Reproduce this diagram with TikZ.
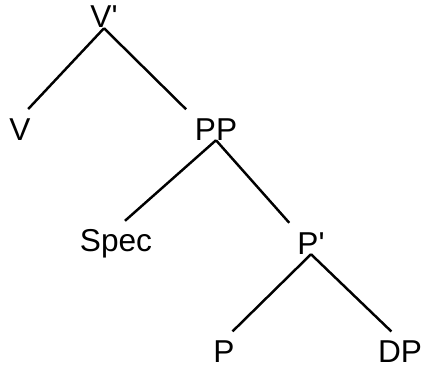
\documentclass[tikz,border=0pt]{standalone}
\usepackage{fontspec}
\setmainfont{Liberation Sans}
\begin{document}
\begin{tikzpicture}[x=0.03cm, y=-0.03cm,
  cat/.style={anchor=base, inner sep=0pt, text height=0.66cm, text depth=0pt,
    font=\fontsize{27}{31}\selectfont},
  br/.style={line width=2.1pt, shorten >=0.36cm}
]
\useasboundingbox (0,0) rectangle (423,367);
% category labels
\node[cat] (vbar) at (104, 28) {V\textquotesingle};
\node[cat] (v) at (20, 140) {V};
\node[cat] (pp) at (216, 140) {PP};
\node[cat] (spec) at (116, 251) {Spec};
\node[cat] (pbar) at (311, 254) {P\textquotesingle};
\node[cat] (p) at (224, 362) {P};
\node[cat] (dp) at (400, 362) {DP};
% branches
\draw[br] (vbar.south) -- (v.north);
\draw[br] (vbar.south) -- (pp.north west);
\draw[br] (pp.south) -- (spec.north);
\draw[br] (pp.south) -- (pbar.north west);
\draw[br] (pbar.south) -- (p.north);
\draw[br] (pbar.south) -- (dp.north);
\end{tikzpicture}
\end{document}
